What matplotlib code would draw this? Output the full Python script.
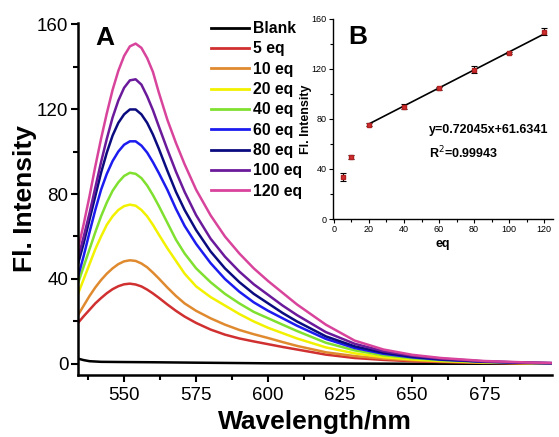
import numpy as np
import matplotlib
matplotlib.use("Agg")
import matplotlib.pyplot as plt
from matplotlib.ticker import MultipleLocator

plt.rcParams['font.family'] = ['Liberation Sans', 'DejaVu Sans']

# spectra
wl = [534, 536, 538, 540, 542, 544, 546, 548, 550, 552, 554, 556, 558, 560, 562, 565, 568,
      571, 575, 580, 585, 590, 595, 600, 605, 610, 620, 630, 640, 650, 660, 675, 690, 698]
eq5 = [19.3, 22.5, 25.5, 28.5, 31, 33.3, 35.2, 36.6, 37.5, 37.8, 37.4, 36.5, 35, 33.2, 31.2, 28, 25,
       22.3, 19.3, 16.2, 13.8, 12, 10.6, 9.3, 8, 6.8, 4.4, 2.8, 1.9, 1.3, 0.9, 0.5, 0.3, 0.2]
eq10 = [23, 27.5, 32, 36, 39.5, 42.5, 45, 47, 48.3, 48.8, 48.5, 47.3, 45.5, 43, 40.3, 36, 32,
        28.5, 25, 21.5, 18.5, 16, 14, 12.2, 10.3, 8.5, 5.5, 3.7, 2.5, 1.7, 1.1, 0.6, 0.3, 0.2]
eq20 = [33, 40, 47, 54, 60, 65.5, 69.5, 72.5, 74.3, 75, 74.5, 72.5, 69.5, 65.5, 61, 54.5, 48.5,
        42.5, 36.5, 31.5, 27.5, 23.5, 20, 17, 14.5, 12, 7.8, 5, 3.2, 2.1, 1.4, 0.7, 0.4, 0.3]
eq40 = [38, 46, 54, 62, 69.5, 76, 81.5, 85.5, 88.5, 90, 89.5, 87.5, 84, 79.5, 74.5, 66.5, 58.5,
        52, 45, 38.5, 33, 28.5, 24.5, 21.5, 18.5, 15.5, 10, 6.4, 4.1, 2.7, 1.8, 0.9, 0.5, 0.3]
eq60 = [41, 51, 62, 72.5, 82, 89.5, 95.5, 100, 103.2, 104.8, 104.8, 102.8, 99.5, 95, 90, 82, 73,
        65, 56.5, 47.5, 40, 34, 29, 25, 21.5, 18, 11.8, 7.5, 4.8, 3.1, 2, 1, 0.5, 0.3]
eq80 = [47, 57, 68, 79, 90, 99.5, 107.5, 113.5, 117.5, 119.8, 119.8, 117.5, 113.5, 108, 101.5, 91, 81,
        72.5, 63, 53, 45, 38.5, 33, 28.5, 24, 20, 13, 8.3, 5.3, 3.4, 2.2, 1.1, 0.6, 0.4]
eq100 = [50, 60, 71, 83, 95, 106, 116, 124, 130, 133.5, 134, 131.5, 126, 119.5, 112, 101, 90.5,
         81, 70, 59, 50.5, 43.5, 37.5, 32.5, 27.5, 23, 15, 9.5, 6, 3.9, 2.5, 1.2, 0.6, 0.4]
eq120 = [54, 66, 79, 93, 106, 118, 129, 138, 145, 149.5, 150.8, 148.8, 144, 137.5, 128, 115, 104,
         94, 82, 70, 60, 52, 45, 39, 33.5, 28, 18.5, 11, 6.8, 4.3, 2.8, 1.4, 0.7, 0.5]

wl_blank = [534, 536, 538, 542, 550, 560, 575, 600, 625, 650, 675, 698]
blank = [2.5, 1.8, 1.3, 1.0, 0.9, 0.8, 0.6, 0.3, 0.2, 0.1, 0.1, 0.1]

labels = ["Blank", "5 eq", "10 eq", "20 eq", "40 eq", "60 eq", "80 eq", "100 eq", "120 eq"]
colors = ["#000000", "#d03030", "#e08a30", "#f2f200", "#80e030", "#1c1cf0",
          "#0b0b80", "#6a1a9a", "#d8449c"]

# inset points
eq_x = [5, 10, 20, 40, 60, 80, 100, 120]
fl_y = [33.6, 49.4, 75.5, 90, 104.5, 119.5, 133, 149.8]
fl_err = [3, 1.5, 1, 2, 1, 3, 1, 3]
fit_slope = 0.72045
fit_icpt = 61.6341
fit_x = [20, 120]

fig = plt.figure(figsize=(5.59, 4.37), dpi=100)
ax = fig.add_axes([78/559, 1-375/437, 474/559, 352/437])

ax.plot(wl_blank, blank, color=colors[0], lw=1.8, label=labels[0])
for ys, c, lab in zip([eq5, eq10, eq20, eq40, eq60, eq80, eq100, eq120], colors[1:], labels[1:]):
    ax.plot(wl, ys, color=c, lw=1.8, label=lab)

ax.set_xlim(534, 698.5)
ax.set_ylim(-5.2, 160.5)
ax.xaxis.set_major_locator(MultipleLocator(25))
ax.xaxis.set_minor_locator(MultipleLocator(12.5))
ax.yaxis.set_major_locator(MultipleLocator(40))
ax.yaxis.set_minor_locator(MultipleLocator(20))
for s in ['top', 'right']:
    ax.spines[s].set_visible(False)
for s in ['left', 'bottom']:
    ax.spines[s].set_linewidth(1.8)
ax.tick_params(which='major', length=5, width=1.5, labelsize=13.5)
ax.tick_params(axis='x', which='major', pad=4)
ax.tick_params(axis='y', which='major', pad=2)
ax.tick_params(which='minor', length=3.5, width=1.5)
ax.set_xlabel("Wavelength/nm", fontsize=19, fontweight='bold', labelpad=4)
ax.set_ylabel("Fl. Intensity", fontsize=19, fontweight='bold', labelpad=0)
ax.text(95/559, 1-45/437, "A", transform=fig.transFigure, fontsize=19, fontweight='bold')

leg = ax.legend(loc='upper left', bbox_to_anchor=(211/559, 1-21/437), bbox_transform=fig.transFigure,
                frameon=False, borderpad=0, borderaxespad=0, handlelength=2.4, handletextpad=0.3,
                labelspacing=0.34, prop={'size': 11.3, 'weight': 'bold'})
for h in leg.get_lines():
    h.set_linewidth(2)

# inset
ins = fig.add_axes([333/559, 1-219/437, 220/559, 200/437])
ins.patch.set_alpha(0)
fx = np.array(fit_x)
ins.plot(fx, fit_slope*fx + fit_icpt, color='black', lw=1.2, zorder=2)
ins.errorbar(eq_x, fl_y, yerr=fl_err, fmt='s', ms=3, mfc='#d03030', mec='#b02020',
             ecolor='black', elinewidth=0.8, capsize=2, capthick=0.8, zorder=3)
ins.set_xlim(-0.5, 125)
ins.set_ylim(0, 160)
ins.xaxis.set_major_locator(MultipleLocator(20))
ins.xaxis.set_minor_locator(MultipleLocator(10))
ins.yaxis.set_major_locator(MultipleLocator(40))
ins.yaxis.set_minor_locator(MultipleLocator(20))
for s in ['top', 'right']:
    ins.spines[s].set_visible(False)
for s in ['left', 'bottom']:
    ins.spines[s].set_linewidth(1)
ins.tick_params(which='major', length=3, width=0.8, labelsize=6.5, pad=1.5)
ins.tick_params(which='minor', length=2, width=0.8)
ins.set_xlabel("eq", fontsize=9, fontweight='bold', labelpad=3)
ins.set_ylabel("Fl. Intensity", fontsize=9, fontweight='bold', labelpad=0)
ins.text(8, 140, "B", fontsize=19, fontweight='bold')
ins.text(54, 71, "y=0.72045x+61.6341", fontsize=9, fontweight='bold', va='center')
ins.text(54, 53, "R$^2$=0.99943", fontsize=9, fontweight='bold', va='center')

fig.savefig("out.png", dpi=100)
